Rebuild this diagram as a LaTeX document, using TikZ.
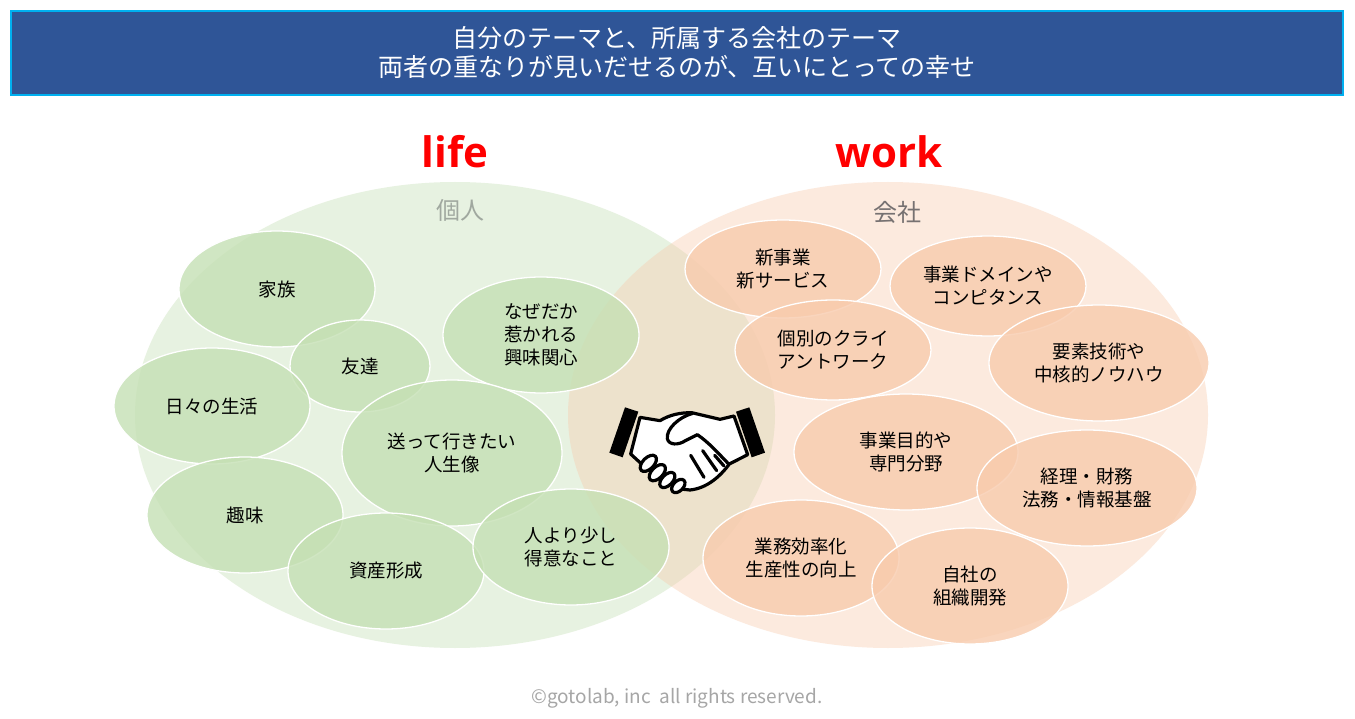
\documentclass[tikz,border=0pt]{standalone}
\usepackage{fontspec}
\setmainfont{Noto Sans CJK JP}
\newfontfamily\latfont{Open Sans}
\usetikzlibrary{shapes.geometric}
\definecolor{gfill}{HTML}{C5E0B4}
\definecolor{ofill}{HTML}{F8CBAD}
\definecolor{hdrfill}{HTML}{2F5597}
\definecolor{hdrline}{HTML}{00B0F0}
\definecolor{grayA}{HTML}{A0A89F}
\definecolor{grayB}{HTML}{767171}
\definecolor{cpy}{HTML}{A6A6A6}
\tikzset{
  ell/.style 2 args={minimum width={2*#1 pt}, minimum height={2*#2 pt}},
  bigell/.style={ellipse, inner sep=0pt, fill opacity=0.4, ell={320}{233}},
  small/.style={ellipse, inner sep=0pt, fill opacity=0.8, text opacity=1,
    draw=white, line width=1.3pt, align=center, font=\fontsize{18.5}{23}\selectfont},
  gs/.style={small, fill=gfill},
  os/.style={small, fill=ofill},
  title/.style={text=red, font=\latfont\bfseries\fontsize{42}{50}\selectfont},
  sub/.style={font=\fontsize{24}{28}\selectfont},
  hand/.style={draw=black, fill=white, line width=3.2pt, line join=round, line cap=round},
  hline/.style={draw=black, line width=3.2pt, line cap=round, line join=round}
}
\begin{document}
\begin{tikzpicture}[x=1pt,y=-1pt]
\useasboundingbox[fill=white] (0,0) rectangle (1355,719);

% header
\node[draw=hdrline, fill=hdrfill, line width=2pt, minimum width=1332pt, minimum height=84pt,
      text=white, align=center, font=\fontsize{25}{29}\selectfont, inner sep=0pt]
  (hdr) at (677,53) {自分のテーマと、所属する会社のテーマ\\両者の重なりが見いだせるのが、互いにとっての幸せ};

% big ellipses
\node[bigell, fill=gfill] (lifeell) at (455,415) {};
\node[bigell, fill=ofill] (workell) at (888,415) {};

% titles
\node[title] (lifet) at (455,152) {life};
\node[title] (workt) at (889,152) {work};
\node[sub, text=grayA] (kojin) at (460,210) {個人};
\node[sub, text=grayB] (kaisha) at (897,212) {会社};

% life ellipses
\node[gs, ell={98}{58}] (kazoku) at (277,289) {家族};
\node[gs, ell={70}{46}] (tomo) at (360,366) {友達};
\node[gs, ell={98}{58}] (hibi) at (212,406) {日々の生活};
\node[gs, ell={98}{58}] (naze) at (541,335) {なぜだか\\惹かれる\\興味関心};
\node[gs, ell={110}{73}] (okutte) at (452,453) {送って行きたい\\人生像};
\node[gs, ell={98}{58}] (shumi) at (245,515) {趣味};
\node[gs, ell={98}{58}] (shisan) at (386,571) {資産形成};
\node[gs, ell={98}{58}] (hito) at (571,547) {人より少し\\得意なこと};

% work ellipses
\node[os, ell={98}{49}] (shinji) at (783,269) {新事業\\新サービス};
\node[os, ell={98}{50}] (domain) at (988,286) {事業ドメインや\\コンピタンス};
\node[os, ell={98}{50}] (kobetsu) at (833,350) {個別のクライ\\アントワーク};
\node[os, ell={110}{58}] (yoso) at (1099,363) {要素技術や\\中核的ノウハウ};
\node[os, ell={112}{58}] (mokuteki) at (906,452) {事業目的や\\専門分野};
\node[os, ell={110}{58}] (keiri) at (1087,488) {経理・財務\\法務・情報基盤};
\node[os, ell={98}{58}] (gyomu) at (801,558) {業務効率化\\生産性の向上};
\node[os, ell={98}{58}] (jisha) at (970,586) {自社の\\組織開発};

% handshake icon
\begin{scope}[shift={(580,380)}, scale=1/3]
  \fill[black] (135,82) -- (175,95) -- (128,232) -- (88,218) -- cycle;
  \fill[black] (468,95) -- (508,82) -- (555,218) -- (515,232) -- cycle;
  \path[hand] (180,112) -- (240,122) .. controls (270,104) and (300,98) .. (335,98)
     -- (420,118) -- (462,108) -- (503,224) -- (448,252)
     .. controls (420,290) and (380,325) .. (330,330) -- (292,326) -- (200,266) -- (152,222) -- cycle;
  \path[hline] (338,100) .. controls (295,112) and (258,148) .. (262,176)
     .. controls (266,196) and (296,196) .. (316,182) -- (352,164)
     .. controls (385,186) and (415,220) .. (446,252);
  \path[hline] (332,226) -- (372,292);
  \path[hline] (368,212) -- (410,272);
  \path[hline] (404,226) -- (432,258);
  \path[hand, rotate around={45:(205,250)}] (205,250) ellipse [x radius=30, y radius=17];
  \path[hand, rotate around={45:(232,278)}] (232,278) ellipse [x radius=30, y radius=17];
  \path[hand, rotate around={45:(262,300)}] (262,300) ellipse [x radius=28, y radius=16];
  \path[hand, rotate around={45:(295,318)}] (295,318) ellipse [x radius=24, y radius=15];
\end{scope}

% copyright
\node[text=cpy, font=\fontsize{19}{23}\selectfont] (copy) at (677,698) {©gotolab, inc~~all rights reserved.};
\end{tikzpicture}
\end{document}
